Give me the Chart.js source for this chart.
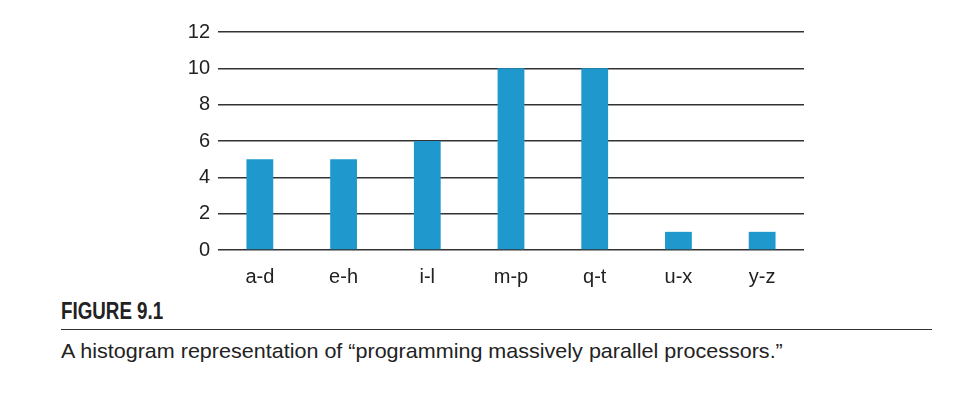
<!DOCTYPE html>
<html>
<head>
<meta charset="utf-8">
<script src="https://cdn.jsdelivr.net/npm/chart.js@4/dist/chart.umd.min.js"></script>
<style>
  body { margin: 0; background: #fff; width: 955px; height: 399px; position: relative; overflow: hidden; }
  #wrap { position: absolute; left: 0; top: 0; width: 955px; height: 290px; }
  .txt { position: absolute; left: 61px; font-family: "Liberation Sans", Arial, sans-serif; color: #222; white-space: nowrap; transform-origin: 0 0; }
  .fig { top: 299.5px; font-weight: bold; font-size: 23px; line-height: 23px; }
  .cap { top: 340px; font-size: 21px; line-height: 21px; }
  .rule { position: absolute; left: 61px; top: 329px; width: 871px; height: 0; border-top: 1.5px solid #333; }
</style>
</head>
<body>
<div id="wrap"><canvas id="histChart"></canvas></div>
<div class="txt fig" data-w="102">FIGURE 9.1</div>
<div class="rule"></div>
<div class="txt cap" data-w="722">A histogram representation of “programming massively parallel processors.”</div>
<script>
// 데이터
const labels = ["a-d", "e-h", "i-l", "m-p", "q-t", "u-x", "y-z"];
const counts = [5, 5, 6, 10, 10, 1, 1];
const yTicks = [0, 2, 4, 6, 8, 10, 12];

// 캡션은 좁은 글꼴이 없어서 가로로 눌러서 맞춤
document.querySelectorAll(".txt").forEach(el => {
  const k = Number(el.dataset.w) / el.offsetWidth;
  el.style.transform = `scaleX(${k})`;
});

const ctx = document.getElementById("histChart").getContext("2d");
const tickFont = { family: "'Liberation Sans', Arial", size: 20 };

new Chart(ctx, {
  type: "bar",
  data: {
    labels,
    datasets: [{
      data: counts,
      backgroundColor: "#1f99cd",
      borderWidth: 0,
      categoryPercentage: 1,
      barPercentage: 0.32
    }]
  },
  options: {
    responsive: true,
    maintainAspectRatio: false,
    animation: false,
    layout: { padding: { top: 32, right: 151, left: 0, bottom: 0 } },
    plugins: { legend: { display: false }, tooltip: { enabled: false } },
    scales: {
      x: {
        grid: { display: false },
        border: { display: false },
        ticks: { color: "#222", font: tickFont, padding: 7 },
        afterFit: (s) => { s.height = 40; }
      },
      y: {
        min: 0,
        max: 12,
        afterBuildTicks: (s) => { s.ticks = yTicks.map(v => ({ value: v })); },
        grid: { color: "#333", lineWidth: 1.4, drawTicks: false },
        border: { display: false },
        ticks: { color: "#222", font: tickFont, padding: 8 },
        afterFit: (s) => { s.width = 218; }
      }
    }
  }
});
</script>
</body>
</html>
